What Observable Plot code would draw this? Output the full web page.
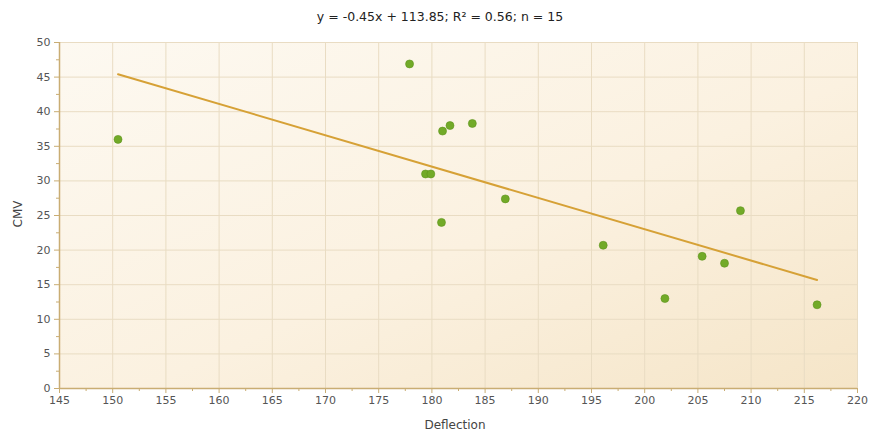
<!DOCTYPE html>
<html>
<head>
<meta charset="utf-8">
<script src="https://cdn.jsdelivr.net/npm/d3@7"></script>
<script src="https://cdn.jsdelivr.net/npm/@observablehq/plot@0.6"></script>
<style>
  html, body { margin: 0; padding: 0; background: #fff; }
  body { width: 870px; height: 437px; overflow: hidden; font-family: "DejaVu Sans", Verdana, sans-serif; }
  #title { height: 34px; line-height: 34px; text-align: center; font-size: 12.5px; color: #222; padding-left: 10px; }
</style>
</head>
<body>
<div id="title">y = -0.45x + 113.85; R² = 0.56; n = 15</div>
<div id="chart"></div>
<script>
const deflection = [150.5, 177.9, 181.0, 181.7, 183.8, 179.4, 179.9, 180.9, 186.9, 196.1, 201.9, 216.2, 205.4, 207.5, 209.0];
const cmv        = [36.0, 46.9, 37.2, 38.0, 38.3, 31.0, 31.0, 24.0, 27.4, 20.7, 13.0, 12.1, 19.1, 18.1, 25.7];
const xTicks = d3.range(145, 221, 5);
const yTicks = d3.range(0, 51, 5);
const xMinor = d3.range(147.5, 220, 5);
const yMinor = d3.range(2.5, 50, 5);

const data = deflection.map((d, i) => ({deflection: d, cmv: cmv[i]}));
const axisColor = "#c9ad73";
const gridColor = "#e9dcc3";

const plot = Plot.plot({
  width: 870,
  height: 403,
  marginTop: 8,
  marginBottom: 49,
  marginLeft: 59,
  marginRight: 13,
  style: {fontFamily: "DejaVu Sans, Verdana, sans-serif", fontSize: "11px", color: "#444", background: "transparent"},
  x: {domain: [145, 220], ticks: xTicks},
  y: {domain: [0, 50], ticks: yTicks},
  marks: [
    Plot.frame({fill: "url(#bgGrad)", stroke: "#efe3cc"}),
    Plot.gridX(xTicks, {stroke: gridColor, strokeOpacity: 1, strokeWidth: 1}),
    Plot.gridY(yTicks, {stroke: gridColor, strokeOpacity: 1, strokeWidth: 1}),
    Plot.axisX(xTicks, {tickSize: 5, tickPadding: 3, stroke: axisColor, fill: "#555", label: null}),
    Plot.axisX(xMinor, {tickSize: 3, stroke: axisColor, text: null, label: null}),
    Plot.axisY(yTicks, {tickSize: 5, tickPadding: 4, stroke: axisColor, fill: "#555", label: null}),
    Plot.axisY(yMinor, {tickSize: 3, stroke: axisColor, text: null, label: null}),
    Plot.ruleY([0], {stroke: axisColor, strokeWidth: 1.5}),
    Plot.ruleX([145], {stroke: axisColor, strokeWidth: 1.5}),
    Plot.linearRegressionY(data, {x: "deflection", y: "cmv", ci: 0, stroke: "#d6a136", strokeWidth: 2}),
    Plot.dot(data, {x: "deflection", y: "cmv", r: 4, fill: "#72aa28", stroke: "#5e941c", strokeWidth: 0.6})
  ]
});

// gradient definition
const ns = "http://www.w3.org/2000/svg";
const defs = document.createElementNS(ns, "defs");
defs.innerHTML = '<linearGradient id="bgGrad" x1="0" y1="0" x2="1" y2="1">' +
  '<stop offset="0%" stop-color="#fdf9f1"/>' +
  '<stop offset="55%" stop-color="#fbf1e0"/>' +
  '<stop offset="100%" stop-color="#f5e5c8"/></linearGradient>';
plot.insertBefore(defs, plot.firstChild);

// axis titles
const xTitle = document.createElementNS(ns, "text");
xTitle.setAttribute("x", 455);
xTitle.setAttribute("y", 395);
xTitle.setAttribute("text-anchor", "middle");
xTitle.setAttribute("font-size", "12px");
xTitle.setAttribute("fill", "#444");
xTitle.textContent = "Deflection";
plot.appendChild(xTitle);

const yTitle = document.createElementNS(ns, "text");
yTitle.setAttribute("transform", "translate(22,180) rotate(-90)");
yTitle.setAttribute("text-anchor", "middle");
yTitle.setAttribute("font-size", "12px");
yTitle.setAttribute("fill", "#444");
yTitle.textContent = "CMV";
plot.appendChild(yTitle);

document.getElementById("chart").appendChild(plot);
</script>
</body>
</html>
